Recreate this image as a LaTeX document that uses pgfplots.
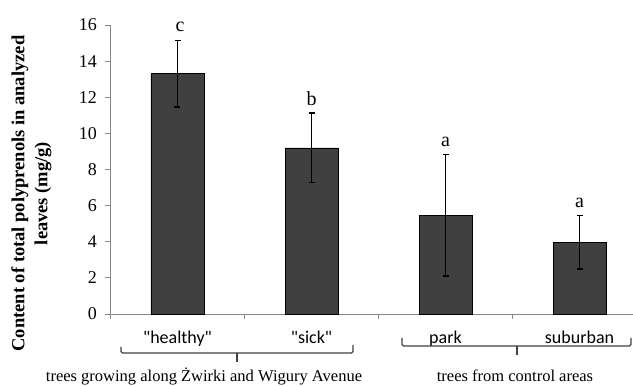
\documentclass[border=0pt]{standalone}
\usepackage{fontspec}
\setmainfont{Liberation Serif}
\newfontfamily\calfont[Ligatures=TeXOff]{Carlito}
\usepackage{pgfplots}
\pgfplotsset{compat=1.18}
\definecolor{barfill}{RGB}{64,64,64}
\definecolor{axgray}{RGB}{134,134,134}
\begin{document}
\begin{tikzpicture}
\useasboundingbox (0,0) rectangle (633pt,386pt);
\begin{axis}[
  at={(110.5pt,72pt)}, anchor=south west, scale only axis,
  width=522.6pt, height=289pt,
  xmin=-0.5, xmax=3.4, ymin=0, ymax=16,
  ytick={0,2,...,16},
  xtick={-0.5,0.5,1.5,2.5}, xticklabels={},
  axis x line*=bottom, axis y line*=left,
  axis line style={axgray, line width=0.9pt},
  tick style={axgray, line width=0.9pt},
  tick align=outside, major tick length=5pt,
  /pgf/number format/assume math mode=true,
  y tick label style={font=\fontsize{18}{18}\selectfont, xshift=-5pt},
  clip=false,
]
\addplot[ybar, bar width=53pt, fill=barfill, draw=black, line width=0.6pt,
  error bars/.cd, y dir=both, y explicit,
  error bar style={black, line width=1.5pt},
  error mark options={rotate=90, mark size=3pt, line width=1.5pt, black}]
  coordinates {
  (0,13.30) +- (0,1.84)
  (1,9.20) +- (0,1.92)
  (2,5.47) +- (0,3.37)
  (3,3.97) +- (0,1.47)
  };
\node[anchor=base, font=\fontsize{20}{20}\selectfont, inner sep=0pt] at (axis cs:0.02,15.62) {c};
\node[anchor=base, font=\fontsize{20}{20}\selectfont, inner sep=0pt] at (axis cs:1.0,11.52) {b};
\node[anchor=base, font=\fontsize{20}{20}\selectfont, inner sep=0pt] at (axis cs:2.0,9.30) {a};
\node[anchor=base, font=\fontsize{20}{20}\selectfont, inner sep=0pt] at (axis cs:3.0,5.92) {a};
\end{axis}
% y label
\node[rotate=90, align=center, inner sep=0pt, font=\bfseries\fontsize{18.5}{23}\selectfont] at (31.5pt,192.5pt)
  {Content of total polyprenols in analyzed\\leaves (mg/g)};
% category labels
\node[anchor=base, inner sep=0pt, font=\calfont\fontsize{18}{18}\selectfont] at (177.5pt,42pt) {"healthy"};
\node[anchor=base, inner sep=0pt, font=\calfont\fontsize{18}{18}\selectfont] at (311.5pt,42pt) {"sick"};
\node[anchor=base, inner sep=0pt, font=\calfont\fontsize{18}{18}\selectfont] at (445.5pt,42pt) {park};
\node[anchor=base, inner sep=0pt, font=\calfont\fontsize{18}{18}\selectfont] at (579.5pt,42pt) {suburban};
% braces
\draw[barfill, line width=1.2pt, rounded corners=1.5pt] (121pt,39pt) -- (121pt,33pt) -- (353pt,33pt) -- (353pt,41pt);
\draw[barfill, line width=1.2pt] (237pt,33pt) -- (237pt,24pt);
\draw[barfill, line width=1.2pt, rounded corners=1.5pt] (402pt,48pt) -- (402pt,40pt) -- (631pt,40pt) -- (631pt,48pt);
\draw[barfill, line width=1.2pt] (517pt,40pt) -- (517pt,31pt);
% group labels
\node[anchor=base, inner sep=0pt, font=\fontsize{16.5}{16.5}\selectfont] at (204pt,4.5pt) {trees growing along Żwirki and Wigury Avenue};
\node[anchor=base, inner sep=0pt, font=\fontsize{16.5}{16.5}\selectfont] at (515pt,4.5pt) {trees from control areas};
\end{tikzpicture}
\end{document}
